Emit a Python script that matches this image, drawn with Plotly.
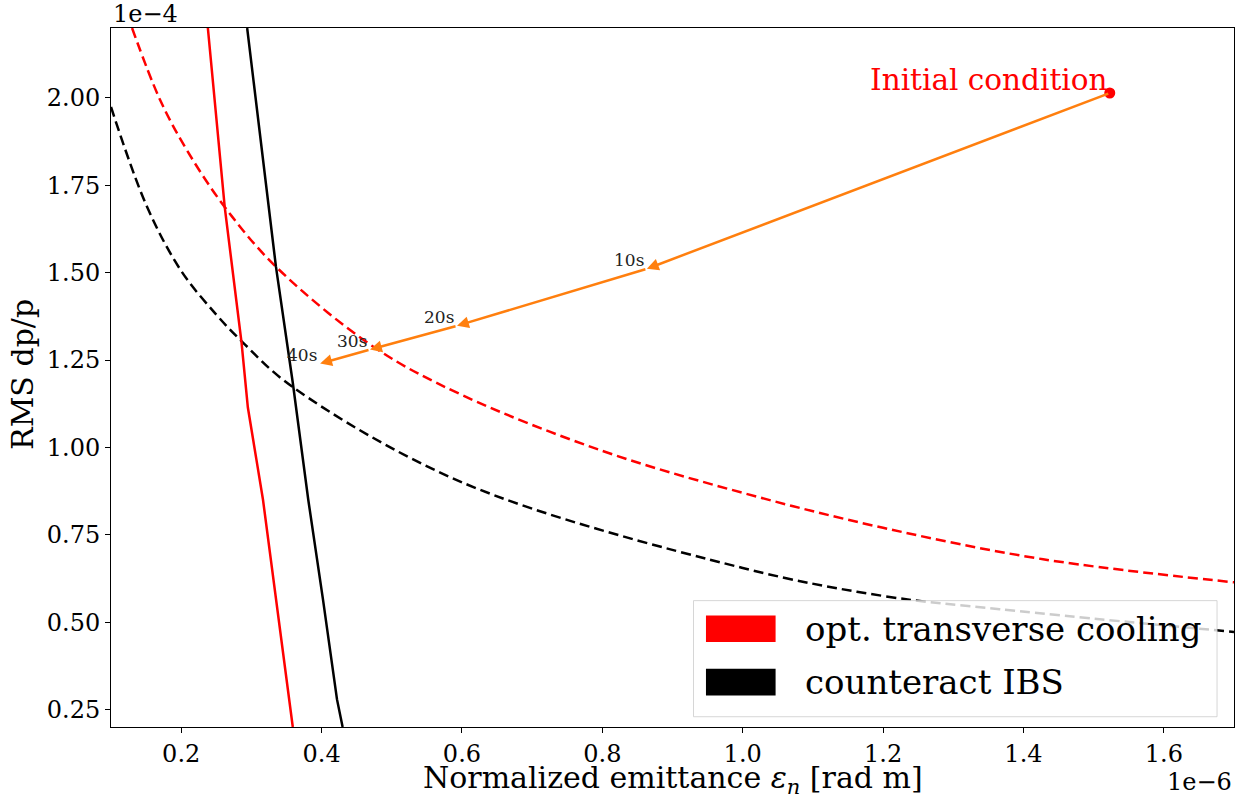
import plotly.graph_objects as go

# Emittance in units of 1e-6 rad m, momentum spread in units of 1e-4
cool_eps = [0.238, 0.262, 0.286, 0.295, 0.3165, 0.335, 0.348, 0.359]
cool_dpp = [2.200, 1.688, 1.300, 1.114, 0.851, 0.565, 0.374, 0.200]

cool_eq_eps = [0.130, 0.170, 0.208, 0.262, 0.335, 0.476, 0.600, 0.800, 1.000, 1.200, 1.428, 1.700]
cool_eq_dpp = [2.200, 1.994, 1.851, 1.688, 1.517, 1.285, 1.150, 0.990, 0.870, 0.770, 0.680, 0.614]

ibs_eps = [0.294, 0.335, 0.359, 0.381, 0.402, 0.422, 0.430]
ibs_dpp = [2.200, 1.517, 1.185, 0.851, 0.565, 0.279, 0.200]

ibs_eq_eps = [0.100, 0.151, 0.200, 0.250, 0.288, 0.358, 0.600, 1.000, 1.200, 1.366, 1.700]
ibs_eq_dpp = [1.974, 1.690, 1.505, 1.380, 1.300, 1.174, 0.900, 0.655, 0.575, 0.537, 0.472]

traj_eps = [1.523, 0.8635, 0.593, 0.469, 0.398]
traj_dpp = [2.014, 1.511, 1.348, 1.280, 1.240]
traj_labels = ["", "10s", "20s", "30s", "40s"]

legend_names = ["opt. transverse cooling", "counteract IBS"]
legend_colors = ["#ff0000", "#000000"]

SERIF = "DejaVu Serif"
ORANGE = "#ff7f0e"

fig = go.Figure()

fig.add_trace(go.Scatter(x=cool_eq_eps, y=cool_eq_dpp, mode="lines",
                         line=dict(color="#ff0000", width=2.5, dash="10px,5px",
                                   shape="spline", smoothing=1.0),
                         showlegend=False, hoverinfo="skip"))
fig.add_trace(go.Scatter(x=ibs_eq_eps, y=ibs_eq_dpp, mode="lines",
                         line=dict(color="#000000", width=2.5, dash="10px,5px",
                                   shape="spline", smoothing=1.0),
                         showlegend=False, hoverinfo="skip"))
fig.add_trace(go.Scatter(x=cool_eps, y=cool_dpp, mode="lines",
                         line=dict(color="#ff0000", width=2.5),
                         showlegend=False, hoverinfo="skip"))
fig.add_trace(go.Scatter(x=ibs_eps, y=ibs_dpp, mode="lines",
                         line=dict(color="#000000", width=2.5),
                         showlegend=False, hoverinfo="skip"))

# starting point of the trajectory
fig.add_trace(go.Scatter(x=[traj_eps[0]], y=[traj_dpp[0]], mode="markers",
                         marker=dict(color="#ff0000", size=11),
                         showlegend=False, hoverinfo="skip"))

annotations = []
annotations.append(dict(x=traj_eps[0], y=traj_dpp[0], xref="x", yref="y",
                        text="Initial condition", showarrow=False,
                        xanchor="right", yanchor="bottom", xshift=-1, yshift=-6,
                        font=dict(family=SERIF, size=29.5, color="#ff0000")))

# trajectory arrows with time labels
for i in range(1, len(traj_eps)):
    annotations.append(dict(x=traj_eps[i], y=traj_dpp[i], xref="x", yref="y",
                            ax=traj_eps[i - 1], ay=traj_dpp[i - 1], axref="x", ayref="y",
                            text="", showarrow=True, arrowhead=2, arrowsize=0.95,
                            arrowwidth=2.5, arrowcolor=ORANGE, standoff=0))
    annotations.append(dict(x=traj_eps[i], y=traj_dpp[i], xref="x", yref="y",
                            text=traj_labels[i], showarrow=False,
                            xanchor="right", yanchor="bottom", xshift=-1, yshift=-3,
                            font=dict(family=SERIF, size=17, color="#222222")))

# axis titles and scale factors
annotations.append(dict(x=0.5, y=-0.075, xref="paper", yref="paper",
                        text="Normalized emittance <i>ε</i><sub><i>n</i></sub> [rad m]",
                        showarrow=False, xanchor="center", yanchor="middle",
                        font=dict(family=SERIF, size=30, color="#000000")))
annotations.append(dict(x=-0.0793, y=0.505, xref="paper", yref="paper",
                        text="RMS dp/p", textangle=-90,
                        showarrow=False, xanchor="center", yanchor="middle",
                        font=dict(family=SERIF, size=30, color="#000000")))
annotations.append(dict(x=0.0, y=1.0, xref="paper", yref="paper",
                        text="1e−4", showarrow=False, xanchor="left", yanchor="bottom",
                        xshift=0, yshift=-2,
                        font=dict(family=SERIF, size=24, color="#000000")))
annotations.append(dict(x=1.0, y=-71 / 699, xref="paper", yref="paper",
                        text="1e−6", showarrow=False, xanchor="right", yanchor="bottom",
                        font=dict(family=SERIF, size=24, color="#000000")))

# legend box with colour patches
shapes = [dict(type="rect", xref="paper", yref="paper",
               x0=0.5187, x1=0.9849, y0=0.0147, y1=0.1808,
               fillcolor="rgba(255,255,255,0.8)", line=dict(color="rgba(204,204,204,0.8)", width=1),
               layer="above")]
patch_y = [(0.1216, 0.1595), (0.0451, 0.0835)]
for (y0, y1), name, col in zip(patch_y, legend_names, legend_colors):
    shapes.append(dict(type="rect", xref="paper", yref="paper",
                       x0=0.5298, x1=0.5918, y0=y0, y1=y1,
                       fillcolor=col, line=dict(width=0), layer="above"))
    annotations.append(dict(x=0.6162, y=(y0 + y1) / 2, xref="paper", yref="paper",
                            text=name, showarrow=False, xanchor="left", yanchor="middle",
                            font=dict(family=SERIF, size=34, color="#000000")))

axis_common = dict(showgrid=False, zeroline=False, showline=True, linecolor="#000000",
                   linewidth=1, mirror=True, ticks="outside", ticklen=5, tickwidth=1,
                   tickcolor="#000000", tickfont=dict(family=SERIF, size=24, color="#000000"))

fig.update_layout(
    width=1235, height=798, autosize=False,
    margin=dict(l=111, r=1, t=28, b=71),
    paper_bgcolor="white", plot_bgcolor="white",
    showlegend=False,
    xaxis=dict(range=[0.1, 1.7], tick0=0, dtick=0.2, tickformat=".1f", **axis_common),
    yaxis=dict(range=[0.2, 2.2], tick0=0, dtick=0.25, tickformat=".2f", **axis_common),
    annotations=annotations,
    shapes=shapes,
)

fig.write_html("out.html")
